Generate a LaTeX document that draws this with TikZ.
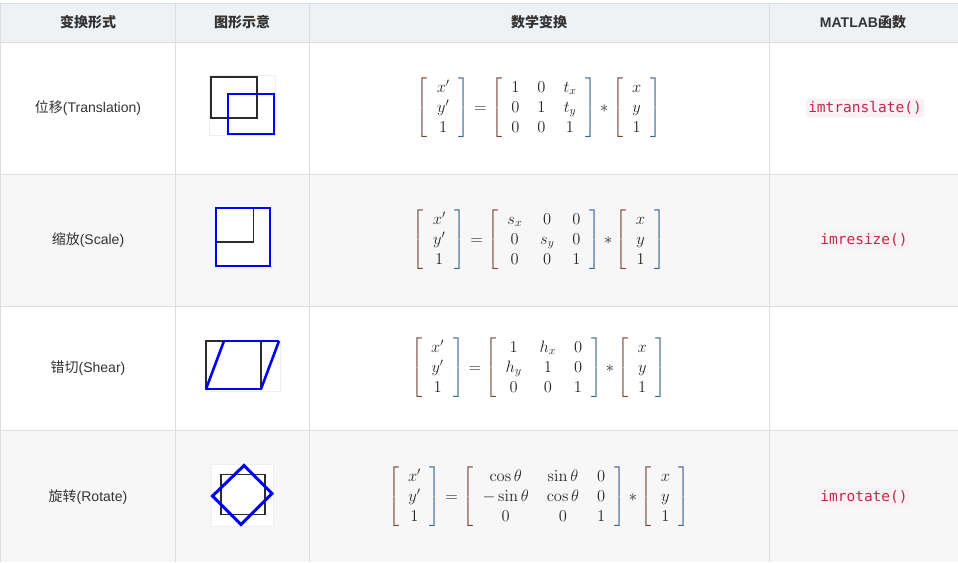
\RequirePackage{fix-cm}
\documentclass[tikz,border=0pt]{standalone}
\usepackage{amsmath,amsfonts}
\usepackage[no-math]{fontspec}
\setmainfont{Liberation Sans}
\setmonofont{DejaVu Sans Mono}
\newfontfamily\cjk{Noto Sans CJK SC}
\usepackage{tikz}

\definecolor{headbg}{HTML}{EFF2F5}
\definecolor{stripe}{HTML}{F7F7F7}
\definecolor{gridc}{HTML}{DDDDDD}
\definecolor{imgc}{HTML}{EEEEEE}
\definecolor{txt}{HTML}{333333}
\definecolor{mtxt}{HTML}{262626}
\definecolor{oldc}{HTML}{2B2B2B}
\definecolor{codefg}{HTML}{C7254E}
\definecolor{codebg}{HTML}{F9F2F4}
\definecolor{lbrk}{HTML}{7A4536}
\definecolor{rbrk}{HTML}{3A6494}

\setlength{\arraycolsep}{9pt}
\newcommand{\mvec}[1]{{\color{lbrk}\left[\color{mtxt}\begin{array}{c}#1\end{array}\color{rbrk}\right]}}
\newcommand{\mmat}[1]{{\color{lbrk}\left[\color{mtxt}\begin{array}{ccc}#1\end{array}\color{rbrk}\right]}}

\begin{document}
\begin{tikzpicture}[x=1pt,y=-1pt]
      \tikzstyle{head}=[font=\fontsize{14}{17}\selectfont\bfseries,text=txt]
      \tikzstyle{cell}=[font=\fontsize{14}{17}\selectfont,text=txt]
      \tikzstyle{eq}=[font=\fontsize{16.5}{20}\selectfont,text=mtxt,inner sep=0pt]
      \tikzstyle{code}=[font=\fontsize{14.5}{17}\selectfont\ttfamily,text=codefg,fill=codebg,
        rounded corners=3pt,inner xsep=2.5pt,inner ysep=0pt,minimum height=19pt]
      \tikzstyle{grid}=[draw=gridc,line width=1pt]
      \tikzstyle{old}=[draw=oldc,line width=1.6pt]
      \tikzstyle{new}=[draw=blue,line width=1.6pt]
      \useasboundingbox (0,0) rectangle (958,562);
      % table
      \fill[headbg] (0,3) rectangle (958,42);
      \foreach \a/\b in {174/306,430/562} {\fill[stripe] (0,\a) rectangle (958,\b);}
      \foreach \y in {3.5,42.5,174.5,306.5,430.5} {\draw[grid] (0,\y) -- (958,\y);}
      \foreach \x in {0.5,175.5,309.5,769.5} {\draw[grid] (\x,3) -- (\x,562);}
      % header
      \foreach \x/\t [count=\k] in {88/变换形式,242/图形示意,539/数学变换}
        {\node[head] (h\k) at (\x,22.5) {\cjk\t};}
      \node[head] (h4) at (863,22.5) {MATLAB{\cjk 函数}};
      % first column
      \node[cell] (r1) at (88,108.5) {{\cjk 位移}(Translation)};
      \node[cell] (r2) at (88,240.5) {{\cjk 缩放}(Scale)};
      \node[cell] (r3) at (88,368.5) {{\cjk 错切}(Shear)};
      \node[cell] (r4) at (88,497.5) {{\cjk 旋转}(Rotate)};
      % pictures
      \filldraw[fill=white,draw=imgc] (209,75) rectangle (275,135);
      \draw[old] (211,77) rectangle (257,118);
      \draw[new] (228,94) rectangle (274,134);
      \fill[white] (216,208) rectangle (270,266);
      \draw[old] (216,208) rectangle (253.5,242);
      \draw[new] (216,208) rectangle (270,266);
      \filldraw[fill=white,draw=imgc] (205,340) rectangle (280,391);
      \draw[old] (206,341) rectangle (261,389);
      \draw[new] (224,341) -- (279,341) (261,389) -- (206,389);
      \draw[new,line width=2.6pt] (206,389) -- (224,341) (261,389) -- (279,341);
      \filldraw[fill=white,draw=imgc] (211.5,464) rectangle (273,526);
      \draw[old] (221,474.5) rectangle (265,514.5);
      \draw[new,line width=3pt] (244,465.5) -- (272,493.5) -- (241,524.5) -- (212.5,496) -- cycle;
      % equations
      \node[eq] (m1) at (539,108)
        {$\mvec{x'\\y'\\1} = \mmat{1&0&t_x\\0&1&t_y\\0&0&1} * \mvec{x\\y\\1}$};
      \node[eq] (m2) at (539,240)
        {$\mvec{x'\\y'\\1} = \mmat{s_x&0&0\\0&s_y&0\\0&0&1} * \mvec{x\\y\\1}$};
      \node[eq] (m3) at (539,368)
        {$\mvec{x'\\y'\\1} = \mmat{1&h_x&0\\h_y&1&0\\0&0&1} * \mvec{x\\y\\1}$};
      \node[eq] (m4) at (539,497)
        {$\mvec{x'\\y'\\1} = \mmat{\cos\theta&\sin\theta&0\\-\sin\theta&\cos\theta&0\\0&0&1} * \mvec{x\\y\\1}$};
      % matlab
      \node[code] (c1) at (865,108) {imtranslate()};
      \node[code] (c2) at (864,240) {imresize()};
      \node[code] (c4) at (864,497) {imrotate()};
    \end{tikzpicture}
\end{document}
